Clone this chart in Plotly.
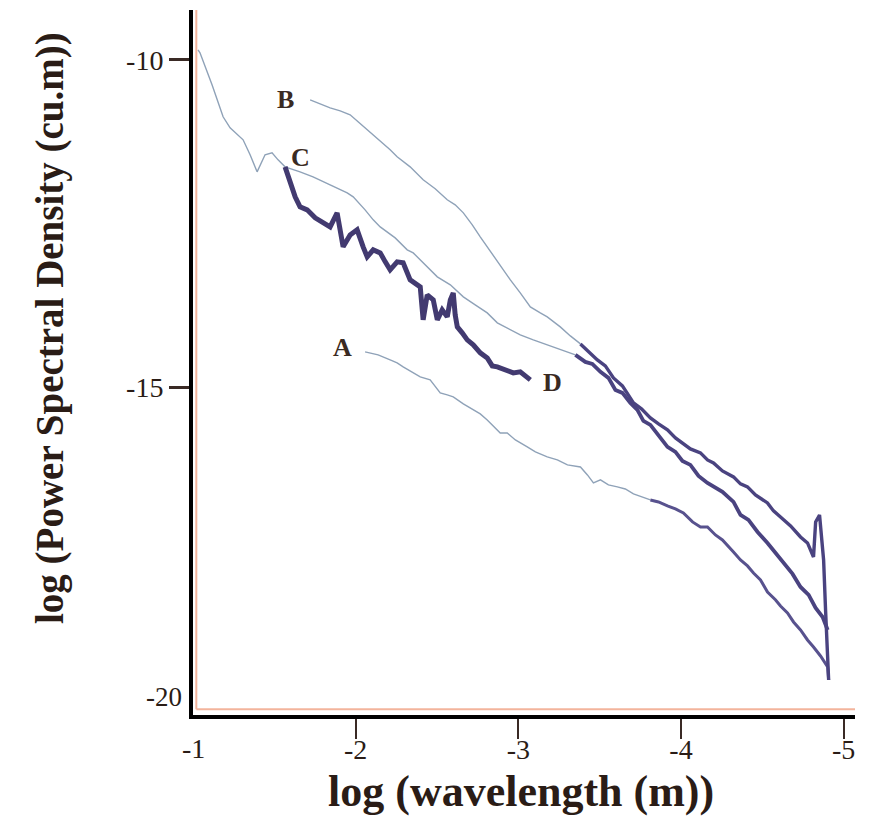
import plotly.graph_objects as go

# ---- data: log(wavelength) vs log(PSD) ----
# Curve C (light part includes the shared low-wavenumber start)
c_light_x = [-1.031, -1.043, -1.117, -1.185, -1.228, -1.308, -1.351, -1.394, -1.443, -1.486, -1.523, -1.566,
             -1.658, -1.738, -1.843, -1.948, -1.985, -2.058, -2.108, -2.151, -2.243, -2.317, -2.354, -2.428,
             -2.502, -2.582, -2.662, -2.735, -2.809, -2.871, -2.951, -3.012, -3.092, -3.178, -3.258, -3.351]
c_light_y = [-9.847, -9.893, -10.382, -10.870, -11.038, -11.221, -11.450, -11.710, -11.450, -11.420, -11.527, -11.634,
             -11.710, -11.786, -11.908, -12.031, -12.092, -12.290, -12.443, -12.550, -12.718, -12.901, -12.947, -13.130,
             -13.313, -13.435, -13.618, -13.740, -13.863, -14.015, -14.122, -14.198, -14.275, -14.351, -14.427, -14.504]
c_dark_x = [-3.351, -3.412, -3.455, -3.505, -3.554, -3.597, -3.640, -3.689, -3.732, -3.769, -3.812, -3.862,
            -3.917, -3.966, -4.009, -4.058, -4.108, -4.163, -4.212, -4.255, -4.323, -4.366, -4.415, -4.471,
            -4.532, -4.582, -4.643, -4.686, -4.735, -4.785, -4.828, -4.871, -4.902]
c_dark_y = [-14.504, -14.611, -14.641, -14.763, -14.855, -15.038, -15.084, -15.237, -15.344, -15.511, -15.573, -15.740,
            -15.908, -15.985, -16.122, -16.183, -16.351, -16.458, -16.534, -16.595, -16.748, -16.947, -17.023, -17.206,
            -17.374, -17.527, -17.710, -17.847, -18.046, -18.168, -18.366, -18.504, -18.702]

# Curve B
b_light_x = [-1.720, -1.782, -1.843, -1.905, -1.966, -2.015, -2.071, -2.151, -2.212, -2.255, -2.335, -2.415,
             -2.489, -2.563, -2.612, -2.662, -2.717, -2.766, -2.809, -2.858, -2.908, -2.951, -3.012, -3.074,
             -3.135, -3.178, -3.258, -3.320, -3.382]
b_light_y = [-10.611, -10.672, -10.733, -10.779, -10.840, -10.947, -11.069, -11.237, -11.374, -11.481, -11.634, -11.832,
             -11.969, -12.137, -12.214, -12.336, -12.519, -12.702, -12.855, -13.023, -13.206, -13.359, -13.557, -13.771,
             -13.863, -13.924, -14.076, -14.214, -14.336]
b_dark_x = [-3.382, -3.431, -3.486, -3.535, -3.585, -3.640, -3.708, -3.757, -3.812, -3.862, -3.917, -3.966,
            -4.009, -4.058, -4.120, -4.163, -4.200, -4.255, -4.323, -4.366, -4.409, -4.458, -4.532, -4.569,
            -4.612, -4.674, -4.735, -4.778, -4.815, -4.828, -4.852, -4.877, -4.889, -4.908]
b_dark_y = [-14.336, -14.458, -14.580, -14.672, -14.855, -14.977, -15.237, -15.328, -15.466, -15.557, -15.649, -15.771,
            -15.847, -15.939, -16.000, -16.107, -16.153, -16.275, -16.366, -16.473, -16.519, -16.641, -16.763, -16.885,
            -16.977, -17.115, -17.282, -17.374, -17.588, -17.053, -16.947, -17.634, -18.397, -19.466]

# Curve A
a_light_x = [-2.058, -2.138, -2.212, -2.255, -2.292, -2.348, -2.397, -2.458, -2.520, -2.563, -2.600, -2.662,
             -2.723, -2.766, -2.809, -2.858, -2.889, -2.932, -2.982, -3.055, -3.105, -3.178, -3.240, -3.302,
             -3.382, -3.425, -3.462, -3.505, -3.554, -3.609, -3.658, -3.708, -3.763, -3.812]
a_light_y = [-14.458, -14.504, -14.580, -14.626, -14.687, -14.763, -14.840, -14.885, -15.084, -15.115, -15.145, -15.252,
             -15.344, -15.405, -15.496, -15.618, -15.695, -15.695, -15.802, -15.908, -15.985, -16.061, -16.107, -16.183,
             -16.214, -16.336, -16.458, -16.412, -16.489, -16.519, -16.550, -16.626, -16.672, -16.718]
a_dark_x = [-3.812, -3.862, -3.917, -3.966, -4.015, -4.071, -4.120, -4.163, -4.212, -4.255, -4.323, -4.366,
            -4.409, -4.446, -4.489, -4.532, -4.582, -4.612, -4.655, -4.692, -4.735, -4.778, -4.815, -4.858,
            -4.902, -4.908]
a_dark_y = [-16.718, -16.748, -16.809, -16.855, -16.916, -17.053, -17.130, -17.130, -17.252, -17.328, -17.511, -17.634,
            -17.725, -17.832, -17.939, -18.122, -18.244, -18.336, -18.443, -18.580, -18.702, -18.855, -18.962, -19.099,
            -19.267, -19.466]

# Curve D (noisy, dark)
d_x = [-1.566, -1.597, -1.628, -1.658, -1.702, -1.751, -1.800, -1.843, -1.886, -1.905, -1.923, -1.966,
       -2.009, -2.046, -2.071, -2.108, -2.151, -2.182, -2.212, -2.255, -2.292, -2.335, -2.366, -2.397,
       -2.415, -2.440, -2.477, -2.502, -2.532, -2.563, -2.582, -2.600, -2.612, -2.625, -2.655, -2.686,
       -2.723, -2.766, -2.809, -2.840, -2.871, -2.920, -2.969, -3.012, -3.055, -3.074]
d_y = [-11.634, -11.878, -12.092, -12.244, -12.290, -12.412, -12.489, -12.550, -12.336, -12.626, -12.855, -12.672,
       -12.595, -12.855, -13.008, -12.901, -12.947, -13.084, -13.206, -13.084, -13.099, -13.359, -13.405, -13.466,
       -13.969, -13.588, -13.664, -13.969, -13.817, -13.924, -13.664, -13.557, -13.893, -14.076, -14.168, -14.275,
       -14.351, -14.473, -14.550, -14.672, -14.687, -14.733, -14.779, -14.763, -14.840, -14.885]

x_ticks = [-2, -3, -4, -5]
x_tick_text = ["-2", "-3", "-4", "-5"]
y_ticks = [-10, -15]
y_tick_text = ["-10", "-15"]

LIGHT = "#8fa2b8"
DARK = "#4a4380"
SERIF = "Liberation Serif, Times New Roman, serif"
SANS = "Liberation Sans, Arial, sans-serif"
INK = "#2a1c16"

fig = go.Figure()

def add_line(x, y, color, width, name):
    fig.add_trace(go.Scatter(x=x, y=y, mode="lines", name=name,
                             line=dict(color=color, width=width), showlegend=False,
                             hoverinfo="skip"))

add_line(c_light_x, c_light_y, LIGHT, 1.4, "C")
add_line(b_light_x, b_light_y, LIGHT, 1.4, "B")
add_line(a_light_x, a_light_y, LIGHT, 1.4, "A")
add_line(a_dark_x, a_dark_y, "#58528e", 3.0, "A")
add_line(c_dark_x, c_dark_y, DARK, 3.8, "C")
add_line(b_dark_x, b_dark_y, DARK, 3.4, "B")
add_line(d_x, d_y, "#423a70", 5.0, "D")

labels = [
    ("B", -1.566, -10.611, SERIF, 26),
    ("C", -1.658, -11.496, SERIF, 26),
    ("A", -1.917, -14.397, SERIF, 26),
    ("D", -3.209, -14.931, SERIF, 26),
    ("B", -5.117, -17.740, SANS, 24),
    ("C", -5.117, -18.733, SANS, 24),
    ("A", -5.117, -19.420, SANS, 24),
]
for t, x, y, fam, sz in labels:
    fig.add_annotation(x=x, y=y, xref="x", yref="y", text="<b>" + t + "</b>", showarrow=False,
                       xanchor="center", yanchor="middle",
                       font=dict(family=fam, size=sz, color="#3a2a22"))

# -20 and -1 labels at the origin
fig.add_annotation(x=-0.044, y=-19.725, xref="paper", yref="y", text="-20", showarrow=False,
                   xanchor="center", yanchor="middle",
                   font=dict(family=SERIF, size=27, color=INK))
fig.add_annotation(x=-1, y=0, xref="x", yref="paper", yshift=-33, text="-1", showarrow=False,
                   xanchor="center", yanchor="middle",
                   font=dict(family=SERIF, size=28, color=INK))

# axis titles
fig.add_annotation(x=-0.216, y=0.549, xref="paper", yref="paper", textangle=-90,
                   xanchor="center", yanchor="middle",
                   text="<b>log (Power Spectral Density (cu.m))</b>", showarrow=False,
                   font=dict(family=SERIF, size=39, color=INK))
fig.add_annotation(x=0.495, y=-0.1092, xref="paper", yref="paper",
                   xanchor="center", yanchor="middle",
                   text="<b>log (wavelength (m))</b>", showarrow=False,
                   font=dict(family=SERIF, size=44, color=INK))

# faint salmon edge beside the axes (scan artefact look)
fig.add_shape(type="line", xref="paper", yref="paper", x0=0.005, x1=0.005, y0=0.008, y1=1,
              line=dict(color="#f3b49c", width=2), layer="below")
fig.add_shape(type="line", xref="paper", yref="paper", x0=0.005, x1=1.0, y0=0.008, y1=0.008,
              line=dict(color="#f3b49c", width=2), layer="below")

fig.update_layout(
    width=873, height=819,
    margin=dict(l=193, r=18, t=10, b=104),
    paper_bgcolor="white", plot_bgcolor="white",
    showlegend=False,
    xaxis=dict(range=[-1, -5.07], tickvals=x_ticks, ticktext=x_tick_text,
               showgrid=False, zeroline=False, showline=True, linecolor="#000000", linewidth=4,
               ticks="outside", ticklen=20, tickwidth=2, tickcolor="#3a2a25",
               ticklabelstandoff=-14,
               tickfont=dict(family=SERIF, size=28, color=INK)),
    yaxis=dict(range=[-20, -9.24], tickvals=y_ticks, ticktext=y_tick_text,
               showgrid=False, zeroline=False, showline=True, linecolor="#000000", linewidth=4,
               ticks="outside", ticklen=20, tickwidth=2.5, tickcolor="#3a2a25",
               tickfont=dict(family=SERIF, size=28, color=INK)),
)

fig.write_html("out.html")
